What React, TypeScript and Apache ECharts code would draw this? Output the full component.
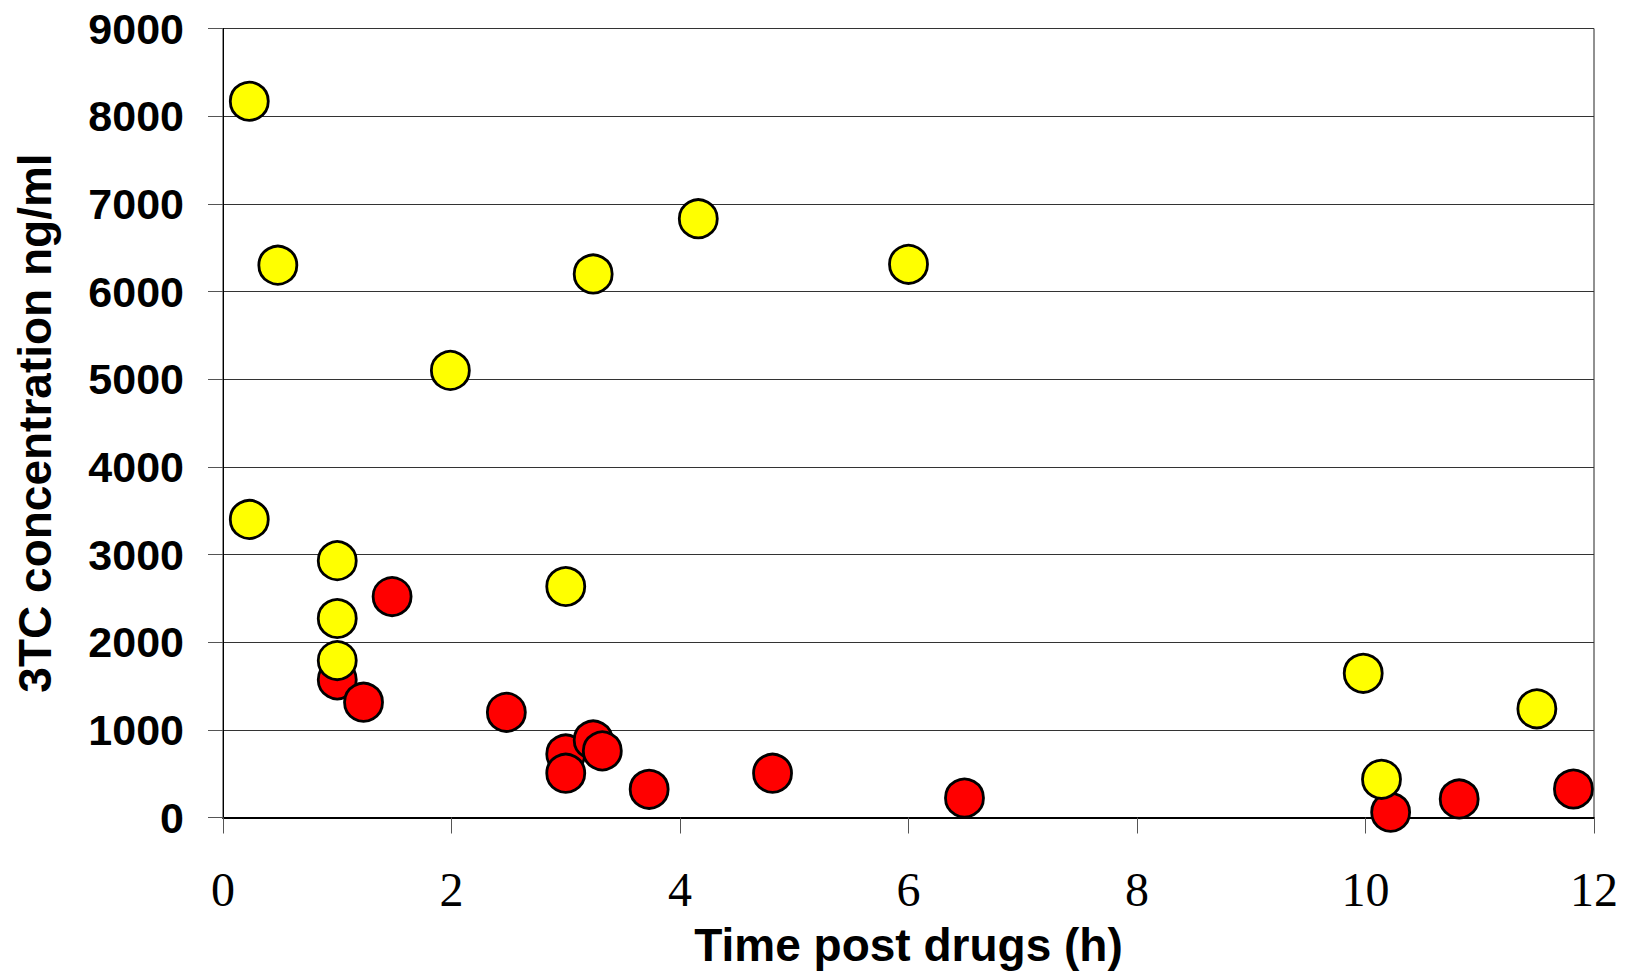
import React, { useEffect, useRef } from "react";
import * as echarts from "echarts";

const xTitle = "Time post drugs (h)";
const yTitle = "3TC concentration ng/ml";

const yellowPoints: [number, number][] = [
  [0.23, 8170], [0.48, 6300], [0.23, 3400], [1.0, 2930], [1.0, 2270], [1.0, 1790],
  [1.99, 5100], [3.0, 2635], [3.24, 6200], [4.16, 6830], [6.0, 6310],
  [9.98, 1645], [10.14, 436], [11.5, 1240],
];

const redPoints: [number, number][] = [
  [1.0, 1570], [1.23, 1315], [1.48, 2520], [2.48, 1200], [3.0, 725], [3.24, 885],
  [3.32, 760], [3.0, 505], [3.73, 322], [4.81, 505], [6.49, 222],
  [10.22, 60], [10.82, 212], [11.82, 325],
];

const xMin = 0, xMax = 12, xStep = 2;
const yMin = 0, yMax = 9000, yStep = 1000;

export default function App() {
  const ref = useRef<HTMLDivElement>(null);
  useEffect(() => {
    if (!ref.current) return;
    const chart = echarts.init(ref.current, undefined, { renderer: "svg" });
    const marker = (color: string) => ({
      color,
      borderColor: "#000",
      borderWidth: 2.8,
      opacity: 1,
    });
    chart.setOption({
      animation: false,
      backgroundColor: "#fff",
      grid: {
        left: 223, right: 31, top: 28.5, bottom: 160.5,
        show: true, borderColor: "#222", borderWidth: 1, backgroundColor: "transparent",
      },
      xAxis: {
        type: "value",
        min: xMin, max: xMax, interval: xStep,
        name: xTitle,
        nameLocation: "middle",
        nameGap: 104,
        nameTextStyle: { fontFamily: "Liberation Sans", fontWeight: "bold", fontSize: 46, color: "#000" },
        axisLine: { show: true, onZero: false, lineStyle: { color: "#000", width: 2 } },
        axisTick: { show: true, length: 16, lineStyle: { color: "#555", width: 1 } },
        axisLabel: {
          margin: 48, fontFamily: "Liberation Serif", fontSize: 48, color: "#000",
          formatter: (v: number) => String(v),
        },
        splitLine: { show: false },
      },
      yAxis: {
        type: "value",
        min: yMin, max: yMax, interval: yStep,
        name: yTitle,
        nameLocation: "middle",
        nameGap: 165,
        nameTextStyle: { fontFamily: "Liberation Sans", fontWeight: "bold", fontSize: 46, color: "#000" },
        axisLine: { show: true, lineStyle: { color: "#000", width: 1 } },
        axisTick: { show: true, length: 15, lineStyle: { color: "#555", width: 1 } },
        axisLabel: {
          margin: 39, fontFamily: "Liberation Sans", fontWeight: "bold", fontSize: 43, color: "#000",
          formatter: (v: number) => String(v),
        },
        splitLine: { show: true, lineStyle: { color: "#333", width: 1 } },
      },
      series: [
        {
          type: "scatter",
          name: "red",
          data: redPoints,
          symbol: "circle",
          symbolSize: 38,
          itemStyle: marker("#ff0000"),
          z: 2,
        },
        {
          type: "scatter",
          name: "yellow",
          data: yellowPoints,
          symbol: "circle",
          symbolSize: 38,
          itemStyle: marker("#ffff00"),
          z: 3,
        },
      ],
    });
    return () => chart.dispose();
  }, []);
  return (
    <div
      ref={ref}
      style={{ position: "fixed", left: 0, top: 0, width: 1625, height: 978, background: "#fff" }}
    />
  );
}
